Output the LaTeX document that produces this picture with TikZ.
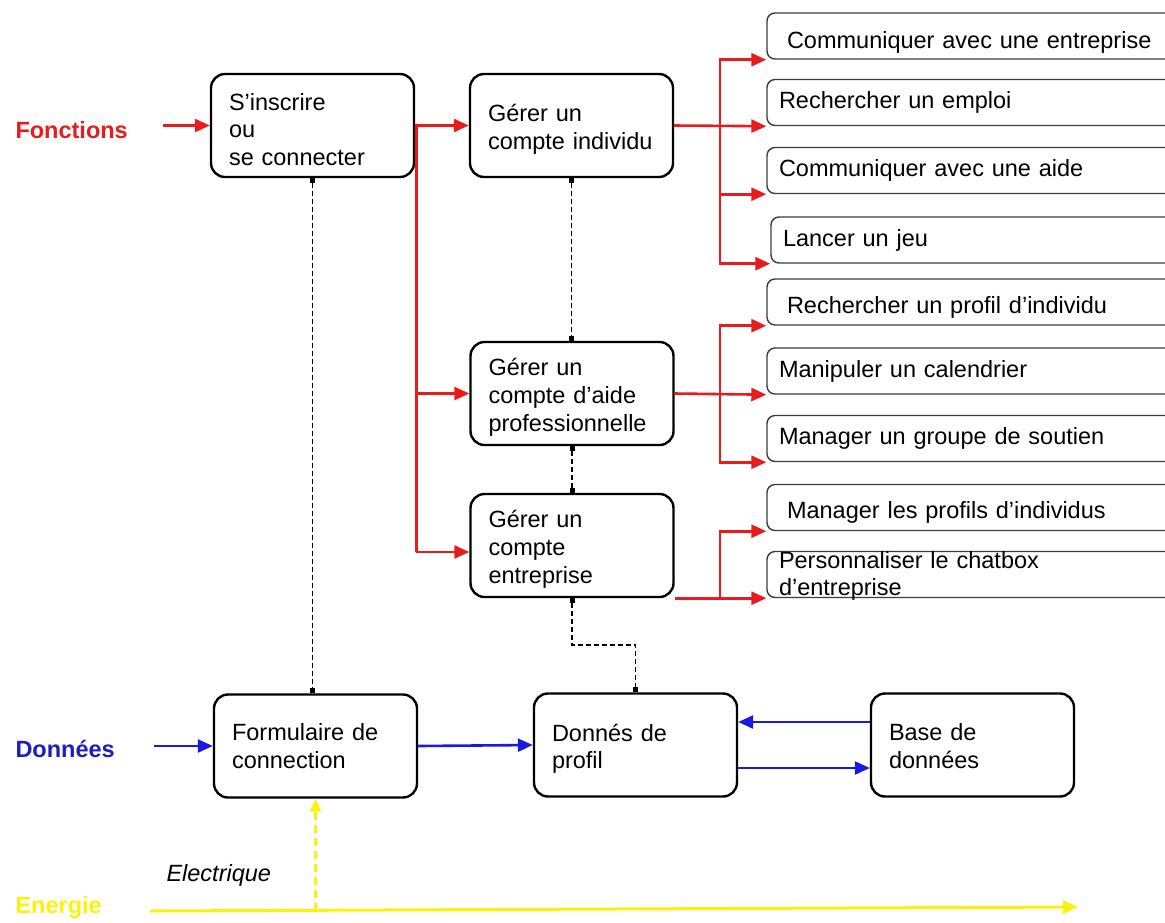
\documentclass[tikz,border=0pt]{standalone}
\usepackage{fontspec}
\setmainfont{Liberation Sans}
\usetikzlibrary{arrows.meta}
\definecolor{fred}{RGB}{232,28,28}
\definecolor{fblue}{RGB}{25,25,225}
\definecolor{dblue}{RGB}{30,30,190}
\definecolor{fyel}{RGB}{250,242,10}
\definecolor{sgray}{RGB}{60,60,60}
\newcommand{\firstl}{\rule{0pt}{25pt}}
\begin{document}
\begin{tikzpicture}[x=1pt,y=-1pt,
  txt/.style={font=\fontsize{23.5}{27.8}\selectfont},
  mainbox/.style={txt, draw, line width=2.4pt, rounded corners=14pt, minimum height=103pt,
    text width=167pt, inner xsep=18pt, align=left},
  subbox/.style={txt, draw=sgray, line width=1.4pt, rounded corners=8pt, minimum height=46pt,
    text width=406pt, inner xsep=12pt, inner ysep=0pt, text height=17pt, text depth=5pt, align=left},
  redarrow/.style={draw=fred, line width=2.6pt, -{Triangle[length=15pt,width=13pt]}},
  redline/.style={draw=fred, line width=2.6pt},
  bluearrow/.style={draw=fblue, line width=2.6pt, -{Triangle[length=15pt,width=13pt]}},
  yelarrow/.style={draw=fyel, line width=3pt, -{Triangle[length=15pt,width=13pt]}},
  yeldash/.style={draw=fyel, line width=2.2pt, dash pattern=on 8pt off 5pt, -{Triangle[length=13pt,width=11pt]}},
  link/.style={draw=black, line width=1.1pt, dash pattern=on 5pt off 3pt,
    {Square[length=5pt,width=5pt]}-{Square[length=5pt,width=5pt]}},
  cat/.style={font=\fontsize{23.5}{27.8}\selectfont\bfseries, anchor=west}
]
\useasboundingbox (0,0) rectangle (1165,922);
\clip (0,0) rectangle (1165,922);

% main boxes
\node[mainbox] (ins)  at (312.5,125.5) {\firstl S’inscrire\\ou\\se connecter};
\node[mainbox] (ind)  at (571.5,125.5) {\firstl Gérer un\\compte individu};
\node[mainbox] (aide) at (572,393.5)   {\firstl Gérer un\\compte d’aide\\professionnelle};
\node[mainbox] (ent)  at (572,545.5)   {\firstl Gérer un\\compte\\entreprise};
\node[mainbox] (form) at (315.5,746)   {Formulaire de\\connection};
\node[mainbox] (prof) at (635.5,745)   {\firstl Donnés de\\profil};
\node[mainbox] (base) at (972.5,745)   {\rule{0pt}{20pt}Base de\\données};

% function boxes
\node[subbox] (r1) at (982,36)    {\raisebox{-6pt}{\hspace*{8pt}Communiquer avec une entreprise}};
\node[subbox] (r2) at (982,102.5) {Rechercher un emploi};
\node[subbox] (r3) at (982,170.5) {Communiquer avec une aide};
\node[subbox] (r4) at (986,240)   {Lancer un jeu};
\node[subbox] (r5) at (982,302)   {\raisebox{-5pt}{\hspace*{8pt}Rechercher un profil d’individu}};
\node[subbox] (r6) at (982,371)   {Manipuler un calendrier};
\node[subbox] (r7) at (982,438.5) {Manager un groupe de soutien};
\node[subbox] (r8) at (982,507.5) {\raisebox{-5pt}{\hspace*{8pt}Manager les profils d’individus}};
\node[subbox] (r9) at (982,574.5) {\raisebox{12.5pt}{\parbox[t]{380pt}{Personnaliser le chatbox\\d’entreprise}}};

% category labels
\node[cat, text=fred]  (lf) at (12,130) {Fonctions};
\node[cat, text=dblue] (ld) at (12,749) {Données};
\node[cat, text=fyel]  (le) at (12,907) {Energie};
\node[txt, anchor=west, font=\fontsize{23.5}{27.8}\selectfont\itshape] (lel) at (163,875) {Electrique};

% red function flows
\coordinate (fin) at (163,125.5);
\draw[redarrow] (fin) -- (ins.west);
\draw[redarrow] (ins.east) -- (ind.west);
\draw[redline] (ins.east) -- ++(1,0) coordinate (lt) -- ([yshift=-6.5pt]lt |- ent.west);
\draw[redarrow] (lt |- aide.west) -- (aide.west);
\draw[redarrow] ([yshift=-6.5pt]lt |- ent.west) -- ([yshift=-6.5pt]ent.west);

\coordinate (j1) at (720,125.5);
\draw[redarrow] (ind.east) -- (r2.south west);
\draw[redarrow] (j1) |- (r1.south west);
\draw[redarrow] (j1) |- (r3.south west);
\draw[redarrow] (j1) |- (r4.south west);

\coordinate (j2) at (720,393.5);
\draw[redarrow] (aide.east) -- (r6.south west);
\draw[redarrow] (j2) |- (r5.south west);
\draw[redarrow] (j2) |- (r7.south west);

\coordinate (j3) at (720,597);
\draw[redarrow] (ent.south east) -- (r9.south west);
\draw[redarrow] (j3) |- (r8.south west);

% dashed links
\draw[link] (ins.south) -- (ins.south |- form.north);
\draw[link] (ind.south) -- (ind.south |- aide.north);
\draw[link] (aide.south) -- (ent.north);
\coordinate (bend) at (572,645);
\draw[link] (ent.south) -- (bend) -| (prof.north);

% data flows
\coordinate (din) at (154,746);
\draw[bluearrow] (din) -- (form.west);
\draw[bluearrow] (form.east) -- (prof.west);
\draw[bluearrow] ([yshift=23pt]base.west) -- ([yshift=23pt]prof.east);
\draw[bluearrow] ([yshift=-23pt]prof.east) -- ([yshift=-23pt]base.west);

% energy
\coordinate (e0) at (150,911);
\coordinate (e1) at (1078,907);
\draw[yelarrow] (e0) -- (e1);
\draw[yeldash] (form.south |- e0) -- (form.south);
\end{tikzpicture}
\end{document}
